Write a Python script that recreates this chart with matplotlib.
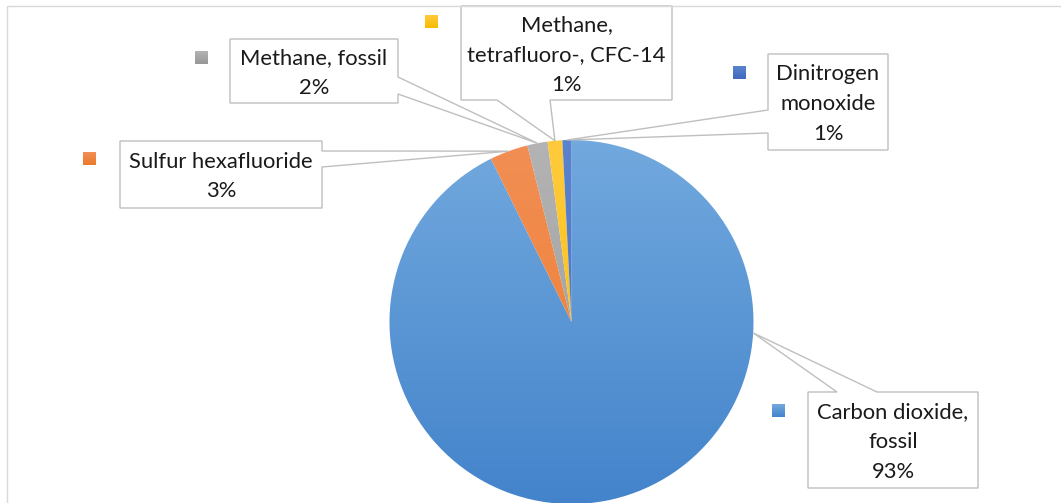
import numpy as np
import matplotlib.pyplot as plt
from matplotlib.patches import Rectangle, Polygon
from matplotlib.colors import to_rgb

# emission shares per substance (percent of total)
labels = ['Carbon dioxide,\nfossil', 'Sulfur hexafluoride', 'Methane, fossil',
          'Methane,\ntetrafluoro-, CFC-14', 'Dinitrogen\nmonoxide']
shares = [92.7, 3.4, 1.8, 1.3, 0.8]

# light (top) / dark (bottom) gradient stops for each slice
tops = ['#72a9de', '#f28f55', '#b4b4b4', '#ffcb3d', '#5a84cf']
bottoms = ['#4383cb', '#ec7a2c', '#979797', '#f7bb00', '#4168bd']

W, H = 1061, 503
fig = plt.figure(figsize=(W / 100, H / 100), dpi=100)
ax = fig.add_axes([0, 0, 1, 1])

cx, cy, r = 571.5, 322, 182
wedges, _ = ax.pie(shares, center=(cx, cy), radius=r, startangle=-90,
                   counterclock=True, frame=True)


def gradient(top, bottom, n=256):
    a, b = np.array(to_rgb(top)), np.array(to_rgb(bottom))
    t = np.linspace(0, 1, n)[:, None]
    return (a * (1 - t) + b * t)[:, None, :]


pad = 4
for w, c0, c1 in zip(wedges, tops, bottoms):
    w.set_facecolor('none')
    w.set_edgecolor('none')
    ax.imshow(gradient(c0, c1),
              extent=(cx - r - pad, cx + r + pad, cy + r + pad, cy - r - pad),
              aspect='auto', interpolation='bilinear', clip_path=w, zorder=1)

# callout boxes: x0, y0, x1, y1, side holding the pointer, pointer anchors
boxes = [
    (808, 392, 978, 488, 'top', 837, 877),
    (120, 141, 322, 208, 'right', 151, 167),
    (230, 39, 398, 103, 'right', 77, 94),
    (461, 6, 672, 100, 'bottom', 497, 550),
    (768, 54, 888, 150, 'left', 110, 133),
]
# where along each slice the pointer touches the rim
tip_frac = [0.28, 0.5, 0.5, 0.5, 0.5]
keys = [(772, 404), (83, 152), (195, 51), (425, 15), (733, 66)]

line_col = '#bfbfbf'
for w, box, f, key, lab, s, c0, c1 in zip(wedges, boxes, tip_frac, keys,
                                          labels, shares, tops, bottoms):
    th = np.radians(w.theta1 + f * (w.theta2 - w.theta1))
    tip = (cx + r * np.cos(th), cy + r * np.sin(th))
    x0, y0, x1, y1, side, a0, a1 = box
    if side == 'top':
        pts = [(x0, y0), (a0, y0), tip, (a1, y0), (x1, y0), (x1, y1), (x0, y1)]
    elif side == 'right':
        pts = [(x0, y0), (x1, y0), (x1, a0), tip, (x1, a1), (x1, y1), (x0, y1)]
    elif side == 'bottom':
        pts = [(x0, y0), (x1, y0), (x1, y1), (a1, y1), tip, (a0, y1), (x0, y1)]
    else:
        pts = [(x0, y0), (x1, y0), (x1, y1), (x0, y1), (x0, a1), tip, (x0, a0)]
    ax.add_patch(Rectangle((x0, y0), x1 - x0, y1 - y0, facecolor='white',
                           edgecolor='none', zorder=3))
    ax.add_patch(Polygon(pts, closed=True, facecolor='none',
                         edgecolor=line_col, linewidth=1.0, zorder=4))
    ax.text((x0 + x1) / 2, (y0 + y1) / 2 + 2, f'{lab}\n{round(s)}%',
            ha='center', va='center', multialignment='center',
            fontsize=15.8, family='Lato', color='#1a1a1a',
            linespacing=1.6, zorder=5)
    kx, ky = key
    ax.imshow(gradient(c0, c1), extent=(kx, kx + 13, ky + 13, ky),
              aspect='auto', interpolation='bilinear', zorder=5)

# chart area outline (extends past right and bottom edges)
ax.add_patch(Rectangle((6.5, 5.5), W + 20, H + 20, facecolor='none',
                       edgecolor='#d9d9d9', linewidth=1.0, zorder=6))

ax.set_xlim(0, W)
ax.set_ylim(H, 0)
ax.axis('off')

fig.savefig('out.png', dpi=100)
